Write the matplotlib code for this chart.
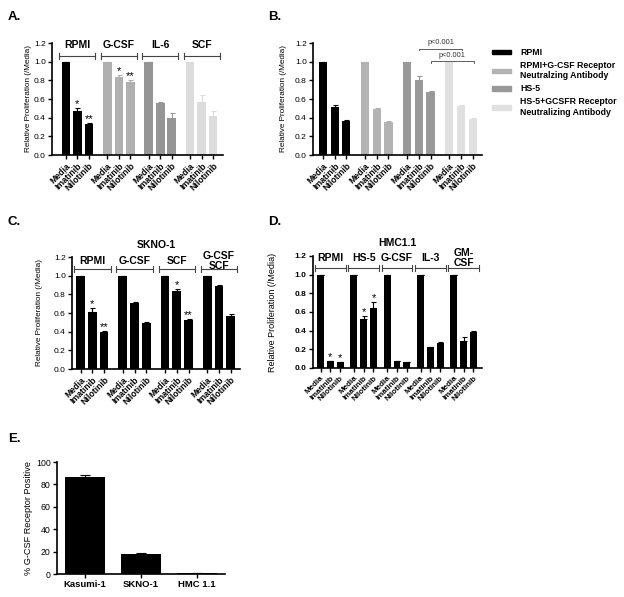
import matplotlib
matplotlib.use('Agg')
import matplotlib.pyplot as plt
from matplotlib.patches import Patch
import numpy as np

plt.rcParams['font.family'] = ['Liberation Sans', 'DejaVu Sans']

# %% data
treatments = ['Media', 'Imatinib', 'Nilotinib']

a_groups = ['RPMI', 'G-CSF', 'IL-6', 'SCF']
a_vals = [[1.0, 0.47, 0.33], [1.0, 0.84, 0.78], [1.0, 0.56, 0.40], [1.0, 0.57, 0.42]]
a_errs = [[0, 0.03, 0.015], [0, 0.015, 0.02], [0, 0.01, 0.045], [0, 0.075, 0.05]]
a_stars = [['', '*', '**'], ['', '*', '**'], ['', '', ''], ['', '', '']]
a_colors = ['#000000', '#b0b0b0', '#959595', '#dcdcdc']

b_groups = ['RPMI', 'RPMI+G-CSF Receptor\nNeutralzing Antibody', 'HS-5',
            'HS-5+GCSFR Receptor\nNeutralizing Antibody']
b_vals = [[1.0, 0.51, 0.36], [1.0, 0.49, 0.355], [1.0, 0.80, 0.67], [1.0, 0.53, 0.39]]
b_errs = [[0, 0.025, 0.012], [0, 0.01, 0.006], [0, 0.05, 0.02], [0, 0.006, 0.004]]
b_colors = ['#000000', '#b3b3b3', '#999999', '#e0e0e0']
b_pvals = ['p<0.001', 'p<0.001']

c_groups = ['RPMI', 'G-CSF', 'SCF', 'G-CSF\nSCF']
c_vals = [[1.0, 0.61, 0.40], [1.0, 0.71, 0.49], [1.0, 0.84, 0.52], [1.0, 0.89, 0.57]]
c_errs = [[0, 0.04, 0.01], [0, 0.01, 0.01], [0, 0.015, 0.015], [0, 0.015, 0.015]]
c_stars = [['', '*', '**'], ['', '', ''], ['', '*', '**'], ['', '', '']]

d_groups = ['RPMI', 'HS-5', 'G-CSF', 'IL-3', 'GM-\nCSF']
d_vals = [[1.0, 0.07, 0.06], [1.0, 0.52, 0.64], [1.0, 0.075, 0.06],
          [1.0, 0.22, 0.265], [1.0, 0.285, 0.385]]
d_errs = [[0, 0.005, 0.005], [0, 0.035, 0.065], [0, 0.004, 0.004],
          [0, 0.005, 0.015], [0, 0.05, 0.01]]
d_stars = [['', '*', '*'], ['', '*', '*'], ['', '', ''], ['', '', ''], ['', '', '']]

e_cells = ['Kasumi-1', 'SKNO-1', 'HMC 1.1']
e_vals = [87, 17.5, 0.5]
e_errs = [1.0, 1.2, 0.3]

W, H = 624, 597


def axes_px(fig, x0, x1, ytop, ybot):
    return fig.add_axes([x0 / W, 1 - ybot / H, (x1 - x0) / W, (ybot - ytop) / H])


def style_axis(ax, fs=6, bold=False):
    for s in ['top', 'right']:
        ax.spines[s].set_visible(False)
    for s in ['left', 'bottom']:
        ax.spines[s].set_linewidth(1.2)
    ax.tick_params(width=1.0, length=3, pad=1.5)
    ax.tick_params(axis='y', labelsize=fs)
    for t in ax.get_yticklabels():
        t.set_fontweight('bold' if bold else 'normal')


def grouped(ax, vals, errs, colors, gap, width, xlim, stars=None, fs_x=6.2):
    xs = []
    for g in range(len(vals)):
        x = g * gap + np.arange(3)
        ax.bar(x, vals[g], width, color=colors[g], edgecolor='none',
               yerr=[np.zeros(3), errs[g]], ecolor=colors[g], capsize=1.8,
               error_kw=dict(elinewidth=0.8, capthick=0.8))
        if stars is not None:
            for i in range(3):
                if stars[g][i]:
                    ax.text(x[i], vals[g][i] + errs[g][i] - 0.01, stars[g][i],
                            ha='center', va='bottom', fontsize=8)
        xs.extend(x)
    ax.set_xlim(*xlim)
    ax.set_ylim(0, 1.2)
    ax.set_yticks(np.arange(0, 1.21, 0.2))
    ax.set_yticklabels(['%.1f' % v for v in np.arange(0, 1.21, 0.2)])
    ax.set_xticks(xs)
    ax.set_xticklabels(treatments * len(vals), rotation=45, ha='right', va='top',
                       rotation_mode='anchor', fontweight='bold', fontsize=fs_x)
    return xs


def brackets(ax, groups, gap, y, lab_y, fs=7.5, lw=0.8):
    for g, name in enumerate(groups):
        x0 = g * gap - 0.55
        x1 = g * gap + 2.55
        ax.plot([x0, x1], [y, y], color='#444444', lw=lw, clip_on=False)
        for xx in (x0, x1):
            ax.plot([xx, xx], [y - 0.03, y + 0.03], color='#444444', lw=lw, clip_on=False)
        ax.text(g * gap + 1, lab_y, name, ha='center', va='center', fontsize=fs,
                fontweight='bold', linespacing=1.0)


fig = plt.figure(figsize=(W / 100, H / 100), dpi=100)

# %% panel A
gap = 3.6
axA = axes_px(fig, 52, 223, 43, 155)
grouped(axA, a_vals, a_errs, a_colors, gap, 0.74, (-1.2, 13.65), a_stars)
brackets(axA, a_groups, gap, 1.06, 1.18)
axA.set_ylabel('Relative Proliferation (/Media)', fontsize=5.9)
axA.yaxis.set_label_coords(-20 / 171, 0.5)
style_axis(axA)

# %% panel B
axB = axes_px(fig, 313, 482, 43, 155)
xsB = grouped(axB, b_vals, b_errs, b_colors, gap, 0.7, (-0.85, 13.6))
for (i0, i1, y, ly), txt in zip([(7, 10, 1.14, 1.2), (8, 11, 1.01, 1.07)], b_pvals):
    x0, x1 = xsB[i0], xsB[i1] + 0.1
    axB.plot([x0, x0, x1, x1], [y - 0.02, y, y, y - 0.02], color='#444444', lw=0.6, clip_on=False)
    axB.text((x0 + x1) / 2, ly, txt, ha='center', va='center', fontsize=5.3, color='#333333')
axB.set_ylabel('Relative Proliferation (/Media)', fontsize=5.9)
axB.yaxis.set_label_coords(-26 / 169, 0.5)
style_axis(axB)
handles = [Patch(color=c) for c in b_colors]
axB.legend(handles, b_groups, loc='upper left', bbox_to_anchor=(1.06, 0.955),
           frameon=False, borderpad=0, borderaxespad=0, handlelength=2.2, handleheight=0.45,
           labelspacing=0.45, handletextpad=1.0,
           prop=dict(size=6.3, weight='bold'))

# %% panel C
axC = axes_px(fig, 72, 240, 257, 369)
grouped(axC, c_vals, c_errs, ['#000000'] * 4, gap, 0.74, (-0.73, 13.58), c_stars)
brackets(axC, c_groups, gap, 1.07, 1.16)
axC.text(0.5, 1.33, 'SKNO-1', transform=axC.get_yaxis_transform(),
         ha='center', va='center', fontsize=7.5, fontweight='bold')
axC.set_ylabel('Relative Proliferation (/Media)', fontsize=5.9)
axC.yaxis.set_label_coords(-29 / 168, 0.5)
style_axis(axC)

# %% panel D
gapD = 3.4
axD = axes_px(fig, 313, 482, 256, 368)
grouped(axD, d_vals, d_errs, ['#000000'] * 5, gapD, 0.7, (-0.77, 16.47), d_stars, fs_x=5.8)
brackets(axD, d_groups, gapD, 1.07, 1.18)
axD.text(0.5, 1.34, 'HMC1.1', transform=axD.get_yaxis_transform(),
         ha='center', va='center', fontsize=7.5, fontweight='bold')
axD.set_ylabel('Relative Proliferation (/Media)', fontsize=6.5)
axD.yaxis.set_label_coords(-36 / 169, 0.5)
style_axis(axD, bold=True)

# %% panel E
axE = axes_px(fig, 57, 225, 462, 574)
xe = np.arange(len(e_cells))
axE.bar(xe, e_vals, 0.7, color='black', yerr=[np.zeros(3), e_errs], ecolor='black',
        capsize=3.5, error_kw=dict(elinewidth=0.8, capthick=0.8))
axE.set_xlim(-0.5, 2.5)
axE.set_ylim(0, 100)
axE.set_yticks(np.arange(0, 101, 20))
axE.set_xticks(xe)
axE.set_xticklabels(e_cells, fontweight='bold', fontsize=6.8)
axE.set_ylabel('% G-CSF Receptor Positive', fontsize=6.6)
axE.yaxis.set_label_coords(-24 / 168, 0.5)
style_axis(axE, fs=6.3)

# %% panel letters
for lab, x, y in [('A.', 8, 17), ('B.', 268, 17), ('C.', 8, 222), ('D.', 268, 222), ('E.', 8, 439)]:
    fig.text(x / W, 1 - y / H, lab, fontsize=9.5, fontweight='bold', ha='left', va='center')

fig.savefig('out.png', dpi=100)
